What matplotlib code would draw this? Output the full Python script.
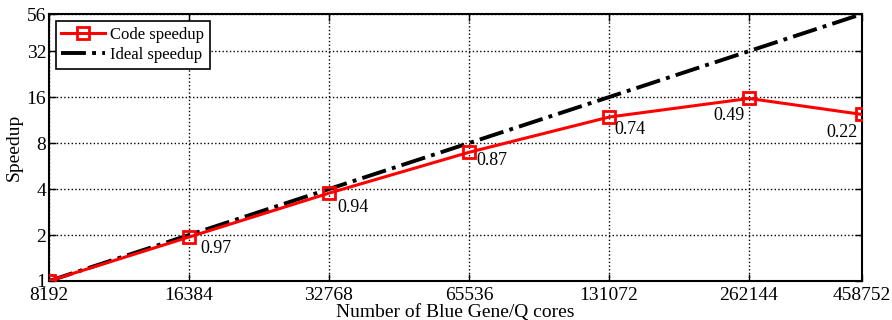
import matplotlib.pyplot as plt
plt.switch_backend('agg')
import numpy as np
from matplotlib import rc
from matplotlib.ticker import FixedLocator, FixedFormatter, NullLocator

rc('font', family='Liberation Serif', size=14)
rc('axes', linewidth=1.5)

cores = [8192, 16384, 32768, 65536, 131072, 262144, 458752]
speedup = [1.0, 1.94, 3.76, 6.96, 11.84, 15.68, 12.32]
efficiency = ['', '0.97', '0.94', '0.87', '0.74', '0.49', '0.22']
ideal = [c / cores[0] for c in cores]
ytick_vals = [1, 2, 4, 8, 16, 32, 56]

# label offsets (points) and alignment, per point
lab_off = [(0, 0), (8, -2), (6, -4), (5, 0), (4, -3), (-3, -6), (-3, -7)]
lab_ha = ['left', 'left', 'left', 'left', 'left', 'right', 'right']

fig = plt.figure(figsize=(8.92, 3.2), dpi=100)
ax = fig.add_axes([0.0549, 0.1219, 0.9115, 0.8343])

ax.plot(cores, speedup, '-s', color='red', linewidth=2.2, markersize=9,
        markerfacecolor='none', markeredgewidth=2, label='Code speedup', zorder=3)
ax.plot(cores, ideal, '-.', color='black', linewidth=2.8, label='Ideal speedup', zorder=2)

ax.set_xscale('log', base=2)
ax.set_yscale('log', base=2)
ax.set_xlim(cores[0], cores[-1])
ax.set_ylim(1, 56)

ax.xaxis.set_major_locator(FixedLocator(cores))
ax.xaxis.set_major_formatter(FixedFormatter([str(c) for c in cores]))
ax.xaxis.set_minor_locator(NullLocator())
ax.yaxis.set_major_locator(FixedLocator(ytick_vals))
ax.yaxis.set_major_formatter(FixedFormatter([str(v) for v in ytick_vals]))
ax.yaxis.set_minor_locator(NullLocator())
ax.tick_params(axis='both', which='major', direction='in', top=True, right=True,
               length=5, width=1, labelsize=14)
ax.tick_params(axis='x', pad=4)
ax.tick_params(axis='y', pad=2)

ax.grid(True, which='major', linestyle=':', color='black', linewidth=1)

for i in range(1, len(cores)):
    ax.annotate(efficiency[i], (cores[i], speedup[i]), xytext=lab_off[i],
                textcoords='offset points', ha=lab_ha[i], va='top', fontsize=13)

ax.set_xlabel('Number of Blue Gene/Q cores', fontsize=14, labelpad=0)
ax.set_ylabel('Speedup', fontsize=14, labelpad=3)

leg = ax.legend(loc='upper left', fontsize=12, fancybox=False, edgecolor='black',
                framealpha=1, borderpad=0.35, labelspacing=0.25, handlelength=2.6,
                handletextpad=0.3, borderaxespad=0.4)
leg.get_frame().set_linewidth(1.2)

plt.savefig('out.png', dpi=100)
plt.close()
